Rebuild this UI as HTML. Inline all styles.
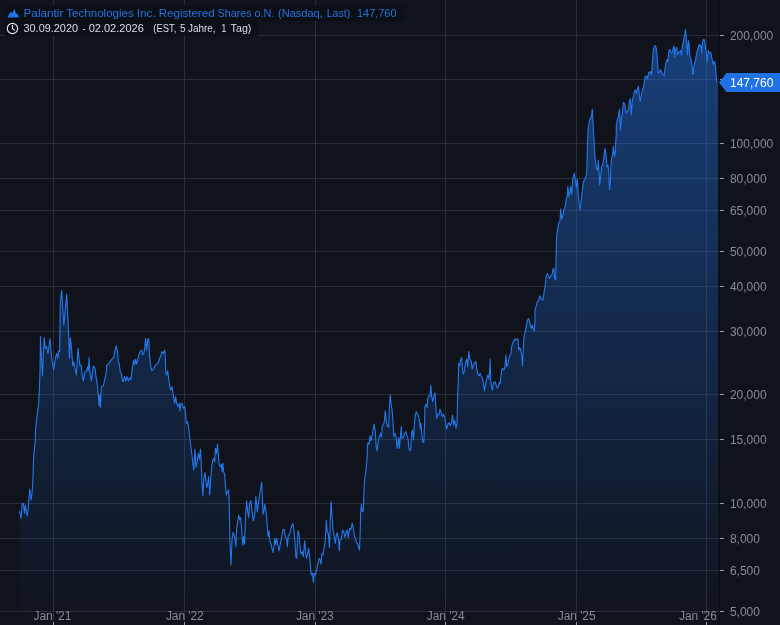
<!DOCTYPE html>
<html><head><meta charset="utf-8"><title>Chart</title>
<style>
html,body{margin:0;padding:0;background:#10131b;}
body{width:780px;height:625px;overflow:hidden;position:relative;font-family:"Liberation Sans",sans-serif;}
svg{position:absolute;left:0;top:0;display:block}
text{font-family:"Liberation Sans",sans-serif;}
svg{will-change:transform}
</style></head><body>
<svg width="780" height="625" viewBox="0 0 780 625">
<defs><linearGradient id="g" gradientUnits="userSpaceOnUse" x1="0" y1="22" x2="0" y2="611">
<stop offset="0" stop-color="#2172e5" stop-opacity="0.48"/><stop offset="1" stop-color="#2172e5" stop-opacity="0.02"/></linearGradient></defs>
<g shape-rendering="crispEdges" stroke="#2a2e39" stroke-width="1">
<line x1="0" y1="35.5" x2="719" y2="35.5"/>
<line x1="0" y1="79.5" x2="719" y2="79.5"/>
<line x1="0" y1="143.5" x2="719" y2="143.5"/>
<line x1="0" y1="178.5" x2="719" y2="178.5"/>
<line x1="0" y1="210.5" x2="719" y2="210.5"/>
<line x1="0" y1="251.5" x2="719" y2="251.5"/>
<line x1="0" y1="286.5" x2="719" y2="286.5"/>
<line x1="0" y1="331.5" x2="719" y2="331.5"/>
<line x1="0" y1="394.5" x2="719" y2="394.5"/>
<line x1="0" y1="439.5" x2="719" y2="439.5"/>
<line x1="0" y1="503.5" x2="719" y2="503.5"/>
<line x1="0" y1="538.5" x2="719" y2="538.5"/>
<line x1="0" y1="570.5" x2="719" y2="570.5"/>
<line x1="0" y1="611.5" x2="719" y2="611.5"/>
<line x1="53.5" y1="0" x2="53.5" y2="621"/>
<line x1="184.5" y1="0" x2="184.5" y2="621"/>
<line x1="315.5" y1="0" x2="315.5" y2="621"/>
<line x1="445.5" y1="0" x2="445.5" y2="621"/>
<line x1="576.5" y1="0" x2="576.5" y2="621"/>
<line x1="706.5" y1="0" x2="706.5" y2="621"/>
</g>
<path d="M19.50,511.33 L21.17,518.33 L22.00,504.17 L23.33,503.33 L24.50,513.33 L25.33,505.00 L26.33,511.67 L27.33,515.83 L28.33,506.67 L29.67,489.17 L31.17,500.00 L32.17,491.67 L33.00,476.67 L33.67,456.67 L34.67,446.67 L35.33,440.00 L35.50,430.83 L36.67,418.33 L38.00,409.17 L38.67,403.33 L39.50,386.67 L40.00,370.00 L40.17,360.00 L40.50,336.67 L41.50,358.33 L42.50,375.83 L43.33,355.00 L44.17,337.50 L45.33,348.33 L46.67,346.67 L48.00,353.33 L50.00,338.67 L51.67,358.33 L53.67,370.00 L55.33,358.33 L56.67,353.33 L57.83,358.33 L58.67,350.83 L59.67,351.67 L60.33,301.67 L61.67,290.33 L62.67,306.67 L63.83,325.00 L65.33,308.33 L66.67,294.17 L68.00,320.00 L68.67,336.67 L69.50,358.33 L70.33,337.50 L71.67,350.00 L72.67,365.83 L73.67,361.67 L75.00,368.33 L76.33,375.00 L78.00,348.33 L79.17,360.00 L80.00,365.83 L81.17,365.00 L82.17,375.00 L83.33,380.83 L85.00,371.67 L86.67,370.83 L87.67,366.67 L88.33,370.83 L89.17,357.50 L90.00,373.33 L91.33,380.83 L93.33,365.83 L95.00,368.33 L96.67,381.67 L96.67,380.00 L98.33,395.00 L99.17,405.83 L99.67,395.00 L100.50,407.50 L101.33,386.67 L103.33,385.83 L105.00,378.33 L106.67,370.00 L106.67,365.00 L108.33,364.17 L110.00,361.67 L112.00,359.17 L113.67,357.50 L115.00,350.00 L116.33,345.83 L117.50,351.67 L118.33,361.67 L119.17,363.33 L120.33,372.50 L121.33,373.33 L122.50,380.83 L123.33,381.67 L124.50,376.67 L125.83,380.83 L127.00,376.67 L128.33,380.83 L129.50,378.33 L130.83,377.50 L130.83,380.00 L131.33,376.67 L132.50,366.67 L133.67,360.00 L134.67,365.00 L135.50,359.17 L136.67,364.17 L138.00,358.33 L139.17,354.17 L140.33,351.67 L141.67,350.00 L142.67,355.00 L144.00,352.50 L145.00,345.00 L145.67,338.33 L146.67,350.00 L148.00,338.33 L148.83,339.17 L149.50,355.00 L150.33,363.33 L151.67,370.83 L153.33,369.17 L155.00,365.83 L156.67,364.17 L158.33,362.50 L159.67,358.33 L160.83,355.83 L162.00,351.67 L163.33,353.33 L164.67,350.00 L165.33,358.33 L165.83,373.33 L166.67,375.00 L167.67,370.83 L168.67,378.33 L169.67,385.83 L170.67,390.00 L172.00,386.67 L173.00,393.33 L173.83,398.33 L174.67,403.33 L175.67,396.67 L176.67,403.33 L177.83,406.67 L179.17,403.33 L180.00,410.83 L180.83,403.33 L182.17,403.33 L183.33,408.33 L184.67,406.67 L185.50,413.33 L186.33,423.33 L187.50,421.67 L188.67,428.33 L190.00,440.00 L191.33,450.00 L192.50,460.00 L193.67,470.00 L195.00,449.17 L196.00,467.50 L197.17,461.67 L198.33,453.33 L199.33,459.17 L200.50,449.17 L201.33,466.67 L202.00,483.33 L202.83,495.83 L203.83,478.33 L205.00,472.50 L206.00,481.67 L206.83,487.50 L207.83,483.33 L208.67,476.67 L209.67,495.00 L210.67,480.00 L211.67,466.67 L212.83,460.00 L213.83,458.33 L214.67,461.67 L215.50,448.33 L216.50,453.33 L217.50,444.17 L218.33,455.00 L219.17,464.17 L220.33,466.67 L221.33,464.17 L222.00,471.67 L222.83,463.33 L223.67,471.67 L224.67,475.00 L225.50,486.67 L226.33,495.00 L227.33,492.50 L227.50,491.67 L228.67,490.00 L229.33,510.00 L230.00,543.33 L231.00,565.00 L232.00,540.00 L233.00,532.50 L234.17,535.00 L235.00,538.33 L235.83,546.67 L236.67,528.33 L237.50,523.33 L238.67,515.00 L239.67,520.00 L240.67,517.50 L241.67,530.00 L242.67,545.00 L243.67,536.67 L244.50,544.17 L245.50,518.33 L246.67,500.83 L247.50,510.00 L248.67,517.50 L249.67,503.33 L251.00,500.83 L252.00,511.67 L253.33,520.83 L254.67,515.00 L255.83,496.67 L257.33,511.67 L258.33,503.33 L259.67,495.00 L260.83,487.50 L261.67,482.00 L262.33,495.00 L263.00,514.17 L264.00,510.83 L264.67,504.17 L265.83,510.00 L266.67,518.33 L267.67,531.67 L268.33,536.67 L269.17,530.83 L269.67,540.00 L270.83,543.33 L272.00,548.33 L273.00,552.50 L274.17,545.00 L274.67,538.33 L275.67,545.00 L276.67,538.33 L277.83,545.00 L279.00,550.83 L280.33,544.17 L281.67,536.67 L283.00,529.67 L284.17,529.67 L285.33,536.67 L286.67,538.33 L287.33,546.67 L288.33,535.83 L289.67,534.17 L290.83,528.33 L292.00,525.00 L293.00,523.67 L294.00,531.67 L295.00,541.67 L295.83,556.67 L296.67,558.33 L297.33,543.33 L298.00,530.83 L299.00,533.33 L300.00,546.67 L301.00,554.17 L302.33,551.67 L303.33,556.67 L304.67,540.83 L305.67,551.67 L306.33,558.33 L307.50,555.00 L308.67,548.33 L309.67,556.67 L310.67,568.33 L311.33,575.00 L312.50,573.33 L313.33,582.50 L314.17,573.33 L315.33,575.00 L316.67,570.00 L318.00,563.33 L319.17,558.33 L320.00,559.17 L321.00,564.17 L322.00,553.33 L323.00,555.00 L324.00,548.33 L325.00,543.33 L325.83,531.67 L326.33,520.00 L327.17,531.67 L328.33,533.33 L329.50,547.50 L330.33,518.33 L331.17,501.67 L332.00,515.00 L333.00,530.00 L334.17,536.67 L335.33,543.33 L336.33,535.00 L337.33,532.50 L338.33,538.33 L339.33,550.83 L340.00,540.00 L341.33,539.17 L342.50,530.00 L343.67,531.67 L345.00,537.50 L346.33,531.67 L347.33,530.00 L348.33,537.50 L349.67,528.33 L350.83,530.00 L352.17,523.00 L353.33,528.33 L354.17,535.00 L355.33,538.33 L356.33,542.50 L357.50,543.33 L358.67,547.50 L359.50,550.00 L360.17,533.33 L360.67,513.33 L361.33,504.17 L362.33,511.67 L363.33,510.83 L364.00,491.67 L364.67,478.33 L365.50,475.00 L366.33,466.67 L367.00,460.00 L367.50,445.00 L368.33,442.50 L369.17,444.17 L370.00,435.83 L371.00,440.83 L372.00,436.67 L373.00,430.00 L374.17,424.17 L375.33,431.67 L376.17,446.67 L377.17,450.83 L378.00,443.33 L378.83,437.50 L380.00,435.00 L380.83,433.33 L381.33,437.50 L382.17,426.67 L383.33,424.17 L384.17,422.50 L385.33,410.83 L386.33,420.83 L387.33,425.83 L388.67,427.50 L389.33,408.33 L390.17,395.00 L391.17,404.17 L392.17,410.83 L393.00,421.67 L393.83,436.67 L395.00,433.33 L396.00,435.83 L397.00,448.33 L398.00,441.67 L398.67,437.50 L399.33,448.33 L400.33,438.33 L401.33,426.67 L402.00,438.33 L403.33,437.50 L404.67,433.33 L406.00,431.67 L407.00,435.83 L408.00,438.33 L409.00,448.33 L410.00,450.83 L410.83,448.33 L411.67,433.33 L412.50,430.00 L413.50,440.00 L414.33,425.00 L415.33,415.00 L416.33,411.67 L417.33,413.33 L418.33,415.83 L419.33,420.00 L420.33,428.33 L421.00,423.33 L422.00,436.67 L422.83,441.67 L423.83,442.50 L424.50,425.00 L425.00,406.67 L425.83,404.17 L427.00,407.50 L427.83,398.33 L428.83,395.83 L430.00,395.83 L430.83,385.33 L431.67,396.67 L432.67,401.67 L433.67,396.67 L435.00,393.00 L435.67,405.00 L436.67,418.33 L438.00,414.17 L439.00,415.00 L440.00,409.17 L441.33,413.33 L442.33,416.67 L443.33,414.17 L444.67,416.67 L445.67,423.33 L446.67,429.17 L448.00,424.17 L449.17,422.50 L450.33,425.83 L451.33,423.33 L452.50,415.00 L453.67,425.00 L454.67,420.00 L456.00,428.33 L457.00,423.33 L457.67,395.00 L458.33,378.33 L458.67,363.33 L459.67,365.83 L460.50,360.00 L461.67,357.50 L462.50,370.00 L463.33,374.17 L464.33,370.83 L465.33,363.33 L466.67,359.17 L467.67,366.67 L468.83,351.67 L470.00,360.00 L471.17,360.83 L472.17,369.17 L473.33,365.00 L474.50,363.33 L475.83,361.33 L476.67,368.33 L477.83,374.17 L479.17,375.83 L480.00,373.33 L481.17,375.83 L482.33,377.50 L483.33,383.33 L484.50,390.83 L485.67,383.33 L486.67,379.17 L487.83,375.00 L488.83,379.17 L489.67,370.00 L490.17,359.17 L490.67,380.00 L491.67,387.50 L492.50,390.00 L493.33,383.33 L494.33,381.67 L495.33,382.50 L496.33,385.83 L497.33,388.33 L498.33,386.67 L499.33,382.50 L500.17,383.33 L501.00,375.83 L501.83,369.17 L502.67,368.33 L503.67,370.00 L504.67,368.33 L505.50,360.83 L506.00,355.00 L506.67,366.67 L507.83,364.17 L508.83,359.17 L510.00,355.00 L511.00,353.33 L511.67,346.67 L512.67,343.33 L513.83,340.83 L515.00,339.17 L516.17,340.00 L517.17,338.67 L518.00,339.17 L518.67,350.00 L519.67,347.50 L520.67,350.00 L521.67,355.00 L522.50,365.83 L523.33,348.33 L524.17,335.00 L525.33,331.67 L526.33,325.83 L527.33,320.83 L528.33,318.67 L529.33,320.00 L530.33,325.00 L531.33,328.33 L532.33,325.00 L533.33,329.17 L534.33,330.83 L535.00,320.00 L535.00,309.17 L536.17,306.67 L537.33,301.67 L538.67,300.00 L540.00,295.83 L541.33,299.17 L543.00,300.00 L544.17,291.67 L545.33,285.00 L546.33,275.00 L547.50,273.33 L548.67,276.67 L549.67,278.33 L550.83,275.83 L552.00,275.00 L553.00,269.17 L553.83,268.33 L554.67,278.33 L555.67,280.00 L556.17,253.33 L556.67,236.67 L557.67,228.33 L558.67,223.33 L560.00,220.83 L560.67,209.17 L561.67,219.17 L562.83,215.83 L563.83,210.00 L565.33,205.83 L566.33,198.33 L567.17,196.67 L567.83,186.67 L569.00,196.67 L570.00,191.67 L570.67,186.67 L571.67,194.17 L572.83,178.33 L573.83,175.00 L574.50,173.33 L575.33,180.00 L576.33,187.50 L577.33,179.17 L578.33,195.00 L579.17,204.17 L580.17,210.00 L581.17,200.00 L582.17,191.67 L583.33,182.50 L584.17,180.00 L585.00,179.17 L586.00,175.83 L586.83,171.67 L587.50,141.67 L588.33,127.50 L589.33,121.67 L590.33,118.33 L591.33,117.50 L592.33,109.17 L593.00,123.33 L594.00,140.00 L594.17,143.33 L595.00,158.33 L595.83,164.17 L596.67,169.17 L597.67,170.00 L598.33,160.00 L599.00,171.67 L599.67,185.00 L600.67,175.83 L601.67,166.67 L602.67,165.00 L603.67,158.33 L605.00,148.33 L606.00,155.00 L607.00,166.67 L608.00,165.00 L608.83,173.33 L609.50,190.00 L610.33,181.67 L611.17,161.67 L612.00,156.67 L612.83,153.33 L613.33,146.33 L614.33,156.67 L615.00,154.17 L615.67,143.33 L616.33,133.33 L616.33,125.00 L617.17,120.00 L618.33,116.67 L619.50,109.17 L620.50,130.00 L621.33,118.33 L622.17,115.00 L623.33,102.50 L624.50,103.33 L625.50,110.00 L626.33,113.33 L627.33,110.83 L628.50,110.00 L629.33,101.67 L630.33,98.67 L631.33,115.00 L632.17,101.67 L633.33,96.67 L634.33,91.67 L635.33,89.67 L636.67,93.33 L637.67,88.33 L638.50,86.33 L639.33,95.00 L640.17,101.33 L641.17,95.83 L642.33,90.00 L643.33,87.50 L644.33,82.50 L645.00,77.00 L646.50,76.00 L647.20,79.00 L648.00,76.00 L649.00,72.00 L650.00,72.50 L650.80,71.50 L651.50,75.00 L652.20,65.00 L653.00,53.00 L653.80,47.50 L655.00,45.50 L656.00,47.50 L657.00,54.00 L657.70,65.00 L658.30,73.50 L659.20,72.50 L660.00,71.00 L660.50,69.50 L661.20,72.00 L662.20,73.00 L663.20,74.50 L664.20,76.00 L664.80,70.00 L665.50,65.00 L666.20,62.00 L667.00,59.50 L667.80,61.50 L668.50,55.00 L669.20,50.00 L670.00,49.50 L670.80,52.00 L671.50,53.00 L672.20,53.00 L673.00,49.00 L673.80,46.00 L674.30,48.00 L674.70,57.00 L675.30,51.00 L676.00,49.00 L676.60,47.50 L677.20,51.00 L677.60,55.00 L678.30,52.50 L679.00,52.00 L679.70,52.50 L680.50,50.50 L681.00,51.00 L681.50,55.00 L682.20,48.00 L682.80,44.00 L683.50,41.00 L684.20,37.00 L685.00,33.50 L685.50,29.50 L686.00,35.00 L686.50,41.00 L687.00,48.00 L687.50,55.00 L688.00,46.00 L688.40,40.50 L689.00,44.00 L689.50,52.00 L690.00,57.00 L690.70,58.00 L691.30,61.00 L692.00,66.00 L692.60,74.00 L693.20,74.50 L693.70,67.00 L694.50,64.00 L695.30,61.00 L696.00,57.00 L696.80,53.00 L697.50,50.50 L698.30,48.00 L699.00,45.00 L699.80,44.50 L700.50,47.00 L701.20,46.00 L701.70,53.00 L702.20,45.00 L702.80,40.50 L703.50,39.50 L704.20,39.50 L704.80,42.00 L705.40,47.00 L706.00,52.00 L706.60,55.00 L707.20,62.00 L707.80,55.00 L708.30,50.50 L709.00,52.00 L709.70,53.00 L710.50,52.50 L711.20,54.00 L711.80,58.00 L712.50,61.00 L713.20,64.50 L714.00,61.50 L714.70,62.00 L715.30,65.00 L715.80,71.00 L716.30,77.00 L716.70,82.00 L718,82.00 L718,611.5 L19.50,611.5 Z" fill="url(#g)" stroke="none"/>
<path d="M19.50,511.33 L21.17,518.33 L22.00,504.17 L23.33,503.33 L24.50,513.33 L25.33,505.00 L26.33,511.67 L27.33,515.83 L28.33,506.67 L29.67,489.17 L31.17,500.00 L32.17,491.67 L33.00,476.67 L33.67,456.67 L34.67,446.67 L35.33,440.00 L35.50,430.83 L36.67,418.33 L38.00,409.17 L38.67,403.33 L39.50,386.67 L40.00,370.00 L40.17,360.00 L40.50,336.67 L41.50,358.33 L42.50,375.83 L43.33,355.00 L44.17,337.50 L45.33,348.33 L46.67,346.67 L48.00,353.33 L50.00,338.67 L51.67,358.33 L53.67,370.00 L55.33,358.33 L56.67,353.33 L57.83,358.33 L58.67,350.83 L59.67,351.67 L60.33,301.67 L61.67,290.33 L62.67,306.67 L63.83,325.00 L65.33,308.33 L66.67,294.17 L68.00,320.00 L68.67,336.67 L69.50,358.33 L70.33,337.50 L71.67,350.00 L72.67,365.83 L73.67,361.67 L75.00,368.33 L76.33,375.00 L78.00,348.33 L79.17,360.00 L80.00,365.83 L81.17,365.00 L82.17,375.00 L83.33,380.83 L85.00,371.67 L86.67,370.83 L87.67,366.67 L88.33,370.83 L89.17,357.50 L90.00,373.33 L91.33,380.83 L93.33,365.83 L95.00,368.33 L96.67,381.67 L96.67,380.00 L98.33,395.00 L99.17,405.83 L99.67,395.00 L100.50,407.50 L101.33,386.67 L103.33,385.83 L105.00,378.33 L106.67,370.00 L106.67,365.00 L108.33,364.17 L110.00,361.67 L112.00,359.17 L113.67,357.50 L115.00,350.00 L116.33,345.83 L117.50,351.67 L118.33,361.67 L119.17,363.33 L120.33,372.50 L121.33,373.33 L122.50,380.83 L123.33,381.67 L124.50,376.67 L125.83,380.83 L127.00,376.67 L128.33,380.83 L129.50,378.33 L130.83,377.50 L130.83,380.00 L131.33,376.67 L132.50,366.67 L133.67,360.00 L134.67,365.00 L135.50,359.17 L136.67,364.17 L138.00,358.33 L139.17,354.17 L140.33,351.67 L141.67,350.00 L142.67,355.00 L144.00,352.50 L145.00,345.00 L145.67,338.33 L146.67,350.00 L148.00,338.33 L148.83,339.17 L149.50,355.00 L150.33,363.33 L151.67,370.83 L153.33,369.17 L155.00,365.83 L156.67,364.17 L158.33,362.50 L159.67,358.33 L160.83,355.83 L162.00,351.67 L163.33,353.33 L164.67,350.00 L165.33,358.33 L165.83,373.33 L166.67,375.00 L167.67,370.83 L168.67,378.33 L169.67,385.83 L170.67,390.00 L172.00,386.67 L173.00,393.33 L173.83,398.33 L174.67,403.33 L175.67,396.67 L176.67,403.33 L177.83,406.67 L179.17,403.33 L180.00,410.83 L180.83,403.33 L182.17,403.33 L183.33,408.33 L184.67,406.67 L185.50,413.33 L186.33,423.33 L187.50,421.67 L188.67,428.33 L190.00,440.00 L191.33,450.00 L192.50,460.00 L193.67,470.00 L195.00,449.17 L196.00,467.50 L197.17,461.67 L198.33,453.33 L199.33,459.17 L200.50,449.17 L201.33,466.67 L202.00,483.33 L202.83,495.83 L203.83,478.33 L205.00,472.50 L206.00,481.67 L206.83,487.50 L207.83,483.33 L208.67,476.67 L209.67,495.00 L210.67,480.00 L211.67,466.67 L212.83,460.00 L213.83,458.33 L214.67,461.67 L215.50,448.33 L216.50,453.33 L217.50,444.17 L218.33,455.00 L219.17,464.17 L220.33,466.67 L221.33,464.17 L222.00,471.67 L222.83,463.33 L223.67,471.67 L224.67,475.00 L225.50,486.67 L226.33,495.00 L227.33,492.50 L227.50,491.67 L228.67,490.00 L229.33,510.00 L230.00,543.33 L231.00,565.00 L232.00,540.00 L233.00,532.50 L234.17,535.00 L235.00,538.33 L235.83,546.67 L236.67,528.33 L237.50,523.33 L238.67,515.00 L239.67,520.00 L240.67,517.50 L241.67,530.00 L242.67,545.00 L243.67,536.67 L244.50,544.17 L245.50,518.33 L246.67,500.83 L247.50,510.00 L248.67,517.50 L249.67,503.33 L251.00,500.83 L252.00,511.67 L253.33,520.83 L254.67,515.00 L255.83,496.67 L257.33,511.67 L258.33,503.33 L259.67,495.00 L260.83,487.50 L261.67,482.00 L262.33,495.00 L263.00,514.17 L264.00,510.83 L264.67,504.17 L265.83,510.00 L266.67,518.33 L267.67,531.67 L268.33,536.67 L269.17,530.83 L269.67,540.00 L270.83,543.33 L272.00,548.33 L273.00,552.50 L274.17,545.00 L274.67,538.33 L275.67,545.00 L276.67,538.33 L277.83,545.00 L279.00,550.83 L280.33,544.17 L281.67,536.67 L283.00,529.67 L284.17,529.67 L285.33,536.67 L286.67,538.33 L287.33,546.67 L288.33,535.83 L289.67,534.17 L290.83,528.33 L292.00,525.00 L293.00,523.67 L294.00,531.67 L295.00,541.67 L295.83,556.67 L296.67,558.33 L297.33,543.33 L298.00,530.83 L299.00,533.33 L300.00,546.67 L301.00,554.17 L302.33,551.67 L303.33,556.67 L304.67,540.83 L305.67,551.67 L306.33,558.33 L307.50,555.00 L308.67,548.33 L309.67,556.67 L310.67,568.33 L311.33,575.00 L312.50,573.33 L313.33,582.50 L314.17,573.33 L315.33,575.00 L316.67,570.00 L318.00,563.33 L319.17,558.33 L320.00,559.17 L321.00,564.17 L322.00,553.33 L323.00,555.00 L324.00,548.33 L325.00,543.33 L325.83,531.67 L326.33,520.00 L327.17,531.67 L328.33,533.33 L329.50,547.50 L330.33,518.33 L331.17,501.67 L332.00,515.00 L333.00,530.00 L334.17,536.67 L335.33,543.33 L336.33,535.00 L337.33,532.50 L338.33,538.33 L339.33,550.83 L340.00,540.00 L341.33,539.17 L342.50,530.00 L343.67,531.67 L345.00,537.50 L346.33,531.67 L347.33,530.00 L348.33,537.50 L349.67,528.33 L350.83,530.00 L352.17,523.00 L353.33,528.33 L354.17,535.00 L355.33,538.33 L356.33,542.50 L357.50,543.33 L358.67,547.50 L359.50,550.00 L360.17,533.33 L360.67,513.33 L361.33,504.17 L362.33,511.67 L363.33,510.83 L364.00,491.67 L364.67,478.33 L365.50,475.00 L366.33,466.67 L367.00,460.00 L367.50,445.00 L368.33,442.50 L369.17,444.17 L370.00,435.83 L371.00,440.83 L372.00,436.67 L373.00,430.00 L374.17,424.17 L375.33,431.67 L376.17,446.67 L377.17,450.83 L378.00,443.33 L378.83,437.50 L380.00,435.00 L380.83,433.33 L381.33,437.50 L382.17,426.67 L383.33,424.17 L384.17,422.50 L385.33,410.83 L386.33,420.83 L387.33,425.83 L388.67,427.50 L389.33,408.33 L390.17,395.00 L391.17,404.17 L392.17,410.83 L393.00,421.67 L393.83,436.67 L395.00,433.33 L396.00,435.83 L397.00,448.33 L398.00,441.67 L398.67,437.50 L399.33,448.33 L400.33,438.33 L401.33,426.67 L402.00,438.33 L403.33,437.50 L404.67,433.33 L406.00,431.67 L407.00,435.83 L408.00,438.33 L409.00,448.33 L410.00,450.83 L410.83,448.33 L411.67,433.33 L412.50,430.00 L413.50,440.00 L414.33,425.00 L415.33,415.00 L416.33,411.67 L417.33,413.33 L418.33,415.83 L419.33,420.00 L420.33,428.33 L421.00,423.33 L422.00,436.67 L422.83,441.67 L423.83,442.50 L424.50,425.00 L425.00,406.67 L425.83,404.17 L427.00,407.50 L427.83,398.33 L428.83,395.83 L430.00,395.83 L430.83,385.33 L431.67,396.67 L432.67,401.67 L433.67,396.67 L435.00,393.00 L435.67,405.00 L436.67,418.33 L438.00,414.17 L439.00,415.00 L440.00,409.17 L441.33,413.33 L442.33,416.67 L443.33,414.17 L444.67,416.67 L445.67,423.33 L446.67,429.17 L448.00,424.17 L449.17,422.50 L450.33,425.83 L451.33,423.33 L452.50,415.00 L453.67,425.00 L454.67,420.00 L456.00,428.33 L457.00,423.33 L457.67,395.00 L458.33,378.33 L458.67,363.33 L459.67,365.83 L460.50,360.00 L461.67,357.50 L462.50,370.00 L463.33,374.17 L464.33,370.83 L465.33,363.33 L466.67,359.17 L467.67,366.67 L468.83,351.67 L470.00,360.00 L471.17,360.83 L472.17,369.17 L473.33,365.00 L474.50,363.33 L475.83,361.33 L476.67,368.33 L477.83,374.17 L479.17,375.83 L480.00,373.33 L481.17,375.83 L482.33,377.50 L483.33,383.33 L484.50,390.83 L485.67,383.33 L486.67,379.17 L487.83,375.00 L488.83,379.17 L489.67,370.00 L490.17,359.17 L490.67,380.00 L491.67,387.50 L492.50,390.00 L493.33,383.33 L494.33,381.67 L495.33,382.50 L496.33,385.83 L497.33,388.33 L498.33,386.67 L499.33,382.50 L500.17,383.33 L501.00,375.83 L501.83,369.17 L502.67,368.33 L503.67,370.00 L504.67,368.33 L505.50,360.83 L506.00,355.00 L506.67,366.67 L507.83,364.17 L508.83,359.17 L510.00,355.00 L511.00,353.33 L511.67,346.67 L512.67,343.33 L513.83,340.83 L515.00,339.17 L516.17,340.00 L517.17,338.67 L518.00,339.17 L518.67,350.00 L519.67,347.50 L520.67,350.00 L521.67,355.00 L522.50,365.83 L523.33,348.33 L524.17,335.00 L525.33,331.67 L526.33,325.83 L527.33,320.83 L528.33,318.67 L529.33,320.00 L530.33,325.00 L531.33,328.33 L532.33,325.00 L533.33,329.17 L534.33,330.83 L535.00,320.00 L535.00,309.17 L536.17,306.67 L537.33,301.67 L538.67,300.00 L540.00,295.83 L541.33,299.17 L543.00,300.00 L544.17,291.67 L545.33,285.00 L546.33,275.00 L547.50,273.33 L548.67,276.67 L549.67,278.33 L550.83,275.83 L552.00,275.00 L553.00,269.17 L553.83,268.33 L554.67,278.33 L555.67,280.00 L556.17,253.33 L556.67,236.67 L557.67,228.33 L558.67,223.33 L560.00,220.83 L560.67,209.17 L561.67,219.17 L562.83,215.83 L563.83,210.00 L565.33,205.83 L566.33,198.33 L567.17,196.67 L567.83,186.67 L569.00,196.67 L570.00,191.67 L570.67,186.67 L571.67,194.17 L572.83,178.33 L573.83,175.00 L574.50,173.33 L575.33,180.00 L576.33,187.50 L577.33,179.17 L578.33,195.00 L579.17,204.17 L580.17,210.00 L581.17,200.00 L582.17,191.67 L583.33,182.50 L584.17,180.00 L585.00,179.17 L586.00,175.83 L586.83,171.67 L587.50,141.67 L588.33,127.50 L589.33,121.67 L590.33,118.33 L591.33,117.50 L592.33,109.17 L593.00,123.33 L594.00,140.00 L594.17,143.33 L595.00,158.33 L595.83,164.17 L596.67,169.17 L597.67,170.00 L598.33,160.00 L599.00,171.67 L599.67,185.00 L600.67,175.83 L601.67,166.67 L602.67,165.00 L603.67,158.33 L605.00,148.33 L606.00,155.00 L607.00,166.67 L608.00,165.00 L608.83,173.33 L609.50,190.00 L610.33,181.67 L611.17,161.67 L612.00,156.67 L612.83,153.33 L613.33,146.33 L614.33,156.67 L615.00,154.17 L615.67,143.33 L616.33,133.33 L616.33,125.00 L617.17,120.00 L618.33,116.67 L619.50,109.17 L620.50,130.00 L621.33,118.33 L622.17,115.00 L623.33,102.50 L624.50,103.33 L625.50,110.00 L626.33,113.33 L627.33,110.83 L628.50,110.00 L629.33,101.67 L630.33,98.67 L631.33,115.00 L632.17,101.67 L633.33,96.67 L634.33,91.67 L635.33,89.67 L636.67,93.33 L637.67,88.33 L638.50,86.33 L639.33,95.00 L640.17,101.33 L641.17,95.83 L642.33,90.00 L643.33,87.50 L644.33,82.50 L645.00,77.00 L646.50,76.00 L647.20,79.00 L648.00,76.00 L649.00,72.00 L650.00,72.50 L650.80,71.50 L651.50,75.00 L652.20,65.00 L653.00,53.00 L653.80,47.50 L655.00,45.50 L656.00,47.50 L657.00,54.00 L657.70,65.00 L658.30,73.50 L659.20,72.50 L660.00,71.00 L660.50,69.50 L661.20,72.00 L662.20,73.00 L663.20,74.50 L664.20,76.00 L664.80,70.00 L665.50,65.00 L666.20,62.00 L667.00,59.50 L667.80,61.50 L668.50,55.00 L669.20,50.00 L670.00,49.50 L670.80,52.00 L671.50,53.00 L672.20,53.00 L673.00,49.00 L673.80,46.00 L674.30,48.00 L674.70,57.00 L675.30,51.00 L676.00,49.00 L676.60,47.50 L677.20,51.00 L677.60,55.00 L678.30,52.50 L679.00,52.00 L679.70,52.50 L680.50,50.50 L681.00,51.00 L681.50,55.00 L682.20,48.00 L682.80,44.00 L683.50,41.00 L684.20,37.00 L685.00,33.50 L685.50,29.50 L686.00,35.00 L686.50,41.00 L687.00,48.00 L687.50,55.00 L688.00,46.00 L688.40,40.50 L689.00,44.00 L689.50,52.00 L690.00,57.00 L690.70,58.00 L691.30,61.00 L692.00,66.00 L692.60,74.00 L693.20,74.50 L693.70,67.00 L694.50,64.00 L695.30,61.00 L696.00,57.00 L696.80,53.00 L697.50,50.50 L698.30,48.00 L699.00,45.00 L699.80,44.50 L700.50,47.00 L701.20,46.00 L701.70,53.00 L702.20,45.00 L702.80,40.50 L703.50,39.50 L704.20,39.50 L704.80,42.00 L705.40,47.00 L706.00,52.00 L706.60,55.00 L707.20,62.00 L707.80,55.00 L708.30,50.50 L709.00,52.00 L709.70,53.00 L710.50,52.50 L711.20,54.00 L711.80,58.00 L712.50,61.00 L713.20,64.50 L714.00,61.50 L714.70,62.00 L715.30,65.00 L715.80,71.00 L716.30,77.00 L716.70,82.00" fill="none" stroke="#2478ea" stroke-width="1.1" stroke-linejoin="round" stroke-linecap="round"/>
<rect x="719" y="0" width="1" height="625" fill="#0a0c12" shape-rendering="crispEdges"/>
<g shape-rendering="crispEdges" stroke="#9a9da7" stroke-width="1">
<line x1="720" y1="35.5" x2="724" y2="35.5"/>
<line x1="720" y1="79.5" x2="724" y2="79.5"/>
<line x1="720" y1="143.5" x2="724" y2="143.5"/>
<line x1="720" y1="178.5" x2="724" y2="178.5"/>
<line x1="720" y1="210.5" x2="724" y2="210.5"/>
<line x1="720" y1="251.5" x2="724" y2="251.5"/>
<line x1="720" y1="286.5" x2="724" y2="286.5"/>
<line x1="720" y1="331.5" x2="724" y2="331.5"/>
<line x1="720" y1="394.5" x2="724" y2="394.5"/>
<line x1="720" y1="439.5" x2="724" y2="439.5"/>
<line x1="720" y1="503.5" x2="724" y2="503.5"/>
<line x1="720" y1="538.5" x2="724" y2="538.5"/>
<line x1="720" y1="570.5" x2="724" y2="570.5"/>
<line x1="720" y1="611.5" x2="724" y2="611.5"/>
<line x1="53.5" y1="622" x2="53.5" y2="625"/>
<line x1="184.5" y1="622" x2="184.5" y2="625"/>
<line x1="315.5" y1="622" x2="315.5" y2="625"/>
<line x1="445.5" y1="622" x2="445.5" y2="625"/>
<line x1="576.5" y1="622" x2="576.5" y2="625"/>
<line x1="706.5" y1="622" x2="706.5" y2="625"/>
</g>
<g font-size="12" fill="#878b95">
<text x="729.9" y="39.9">200,000</text>
<text x="729.9" y="147.9">100,000</text>
<text x="729.9" y="182.9">80,000</text>
<text x="729.9" y="214.9">65,000</text>
<text x="729.9" y="255.9">50,000</text>
<text x="729.9" y="290.9">40,000</text>
<text x="729.9" y="335.9">30,000</text>
<text x="729.9" y="398.9">20,000</text>
<text x="729.9" y="443.9">15,000</text>
<text x="729.9" y="507.9">10,000</text>
<text x="729.9" y="542.9">8,000</text>
<text x="729.9" y="574.9">6,500</text>
<text x="729.9" y="615.9">5,000</text>
<text x="33.6" y="620" textLength="37.8" lengthAdjust="spacing">Jan '21</text>
<text x="165.9" y="620" textLength="37.8" lengthAdjust="spacing">Jan '22</text>
<text x="295.9" y="620" textLength="37.8" lengthAdjust="spacing">Jan '23</text>
<text x="426.8" y="620" textLength="37.8" lengthAdjust="spacing">Jan '24</text>
<text x="557.8" y="620" textLength="37.8" lengthAdjust="spacing">Jan '25</text>
<text x="679.1" y="620" textLength="37.8" lengthAdjust="spacing">Jan '26</text>
</g>
<path d="M719,82.5 L726.5,73 L780,73 L780,92 L726.5,92 Z" fill="#2172e5"/>
<text x="730" y="86.9" font-size="12" fill="#ffffff">147,760</text>
<rect x="5" y="5" width="399" height="16" fill="#0d0f16"/>
<rect x="5" y="20" width="253" height="16" fill="#0d0f16"/>
<path d="M7.4,17.6 L10.5,11.8 L12.1,13.3 L14.5,8.7 L16.1,14.1 L17.3,13.3 L18.9,17.6 Z" fill="#2172e5"/>
<g font-size="11" fill="#2674e0">
<text x="23.5" y="17.3" textLength="39.9" lengthAdjust="spacingAndGlyphs">Palantir</text>
<text x="66.3" y="17.3" textLength="67.5" lengthAdjust="spacingAndGlyphs">Technologies</text>
<text x="136.7" y="17.3" textLength="19.1" lengthAdjust="spacingAndGlyphs">Inc.</text>
<text x="158.7" y="17.3" textLength="55.9" lengthAdjust="spacingAndGlyphs">Registered</text>
<text x="217.5" y="17.3" textLength="34.1" lengthAdjust="spacingAndGlyphs">Shares</text>
<text x="254.5" y="17.3" textLength="20" lengthAdjust="spacingAndGlyphs">o.N.</text>
<text x="278" y="17.3" textLength="44.8" lengthAdjust="spacingAndGlyphs">(Nasdaq,</text>
<text x="326.7" y="17.3" textLength="23.6" lengthAdjust="spacingAndGlyphs">Last)</text>
<text x="357" y="17.3" textLength="39.5" lengthAdjust="spacingAndGlyphs">147,760</text>
</g>
<circle cx="12.45" cy="28.5" r="5.15" fill="none" stroke="#e6e8ee" stroke-width="1.15"/>
<path d="M12.45,25.4 L12.45,28.6 L14.4,30.1" fill="none" stroke="#e6e8ee" stroke-width="1.1" stroke-linecap="round" stroke-linejoin="round"/>
<g font-size="11" fill="#dcdfe6">
<text x="23.5" y="32.4" textLength="54.5" lengthAdjust="spacingAndGlyphs">30.09.2020</text>
<text x="82.6" y="32.4" textLength="3.0" lengthAdjust="spacingAndGlyphs">-</text>
<text x="88.7" y="32.4" textLength="55.1" lengthAdjust="spacingAndGlyphs">02.02.2026</text>
<text x="153.3" y="32.4" textLength="23" lengthAdjust="spacingAndGlyphs">(EST,</text>
<text x="180" y="32.4" textLength="5.6" lengthAdjust="spacingAndGlyphs">5</text>
<text x="188" y="32.4" textLength="27.6" lengthAdjust="spacingAndGlyphs">Jahre,</text>
<text x="221.2" y="32.4" textLength="5.2" lengthAdjust="spacingAndGlyphs">1</text>
<text x="230.6" y="32.4" textLength="20.8" lengthAdjust="spacingAndGlyphs">Tag)</text>
</g>
</svg></body></html>
